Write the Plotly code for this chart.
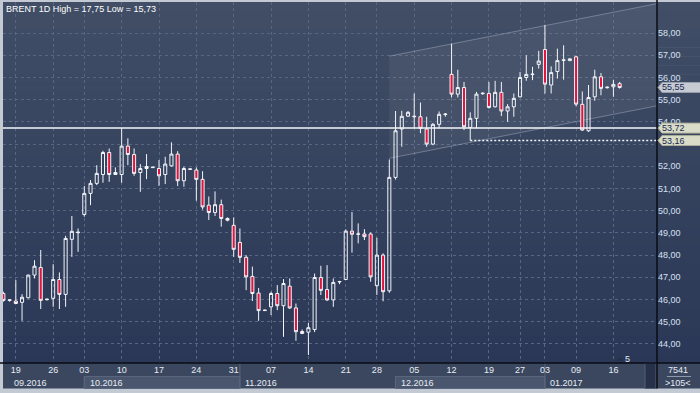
import plotly.graph_objects as go

TITLE = "BRENT 1D High = 17,75 Low = 15,73"

dates = [
    "2016-09-16", "2016-09-18", "2016-09-19", "2016-09-20", "2016-09-21", "2016-09-22", "2016-09-23",
    "2016-09-25", "2016-09-26", "2016-09-27", "2016-09-28", "2016-09-29", "2016-09-30",
    "2016-10-03", "2016-10-04", "2016-10-05", "2016-10-06", "2016-10-07", "2016-10-09",
    "2016-10-10", "2016-10-11", "2016-10-12", "2016-10-13", "2016-10-14", "2016-10-16",
    "2016-10-17", "2016-10-18", "2016-10-19", "2016-10-20", "2016-10-21", "2016-10-23",
    "2016-10-24", "2016-10-25", "2016-10-26", "2016-10-27", "2016-10-28", "2016-10-30",
    "2016-10-31", "2016-11-01", "2016-11-02", "2016-11-03", "2016-11-04", "2016-11-06",
    "2016-11-07", "2016-11-08", "2016-11-09", "2016-11-10", "2016-11-11", "2016-11-13",
    "2016-11-14", "2016-11-15", "2016-11-16", "2016-11-17", "2016-11-18", "2016-11-20",
    "2016-11-21", "2016-11-22", "2016-11-23", "2016-11-24", "2016-11-25",
    "2016-11-28", "2016-11-29", "2016-11-30", "2016-12-01", "2016-12-02", "2016-12-04",
    "2016-12-05", "2016-12-06", "2016-12-07", "2016-12-08", "2016-12-09", "2016-12-11",
    "2016-12-12", "2016-12-13", "2016-12-14", "2016-12-15", "2016-12-16", "2016-12-18",
    "2016-12-19", "2016-12-20", "2016-12-21", "2016-12-22", "2016-12-23",
    "2016-12-27", "2016-12-28", "2016-12-29", "2016-12-30",
    "2017-01-03", "2017-01-04", "2017-01-05", "2017-01-06", "2017-01-08",
    "2017-01-09", "2017-01-10", "2017-01-11", "2017-01-12", "2017-01-13", "2017-01-15",
    "2017-01-16", "2017-01-17",
]

opens = [
    46.27, 45.96, 45.93, 45.87, 46.08, 47.10, 47.44, 45.99, 46.05, 46.90,
    46.23, 48.71, 49.01, 49.83, 50.78, 51.23, 51.63, 52.62, 51.63, 51.63,
    52.91, 52.53, 51.72, 51.90, 51.94, 51.90, 51.63, 52.02, 52.55, 51.35,
    51.86, 51.83, 51.41, 50.25, 49.92, 50.27, 49.65, 49.34, 48.57, 47.90,
    47.04, 46.29, 45.50, 45.67, 46.27, 45.72, 46.60, 45.62, 44.56, 44.53,
    44.65, 46.99, 46.45, 45.98, 46.79, 46.90, 49.08, 48.94, 48.95, 48.95,
    46.62, 48.00, 46.39, 51.50, 53.68, 54.26, 54.23, 54.23, 53.68, 53.00,
    53.89, 54.33, 56.14, 55.25, 55.55, 53.75, 54.16, 55.27, 55.28, 54.68,
    55.33, 54.49, 54.68, 55.13, 56.00, 56.13, 56.59, 57.26, 55.66, 56.27,
    56.77, 56.76, 56.93, 54.79, 53.60, 55.13, 56.03, 55.54, 55.58, 55.72,
]
highs = [
    46.35, 45.99, 46.87, 46.24, 47.12, 47.77, 48.23, 46.05, 47.59, 47.22,
    48.87, 49.76, 49.20, 51.11, 51.38, 52.05, 52.70, 52.80, 51.95, 53.72,
    53.26, 52.80, 52.10, 52.55, 51.97, 52.28, 52.43, 53.08, 52.68, 51.98,
    51.89, 51.95, 51.78, 50.64, 50.87, 50.50, 49.70, 49.70, 49.20, 48.00,
    47.48, 46.52, 45.54, 46.35, 46.65, 46.92, 46.95, 45.82, 44.65, 44.94,
    47.17, 47.52, 47.55, 46.95, 46.84, 49.16, 49.94, 49.43, 49.17, 49.02,
    48.78, 48.08, 52.31, 54.49, 54.50, 54.49, 55.28, 54.87, 54.23, 53.95,
    54.47, 54.40, 57.53, 56.35, 55.80, 54.43, 55.35, 55.33, 55.80, 55.85,
    55.80, 54.80, 55.28, 56.25, 57.00, 56.48, 57.20, 58.37, 56.50, 57.30,
    57.45, 56.86, 56.98, 55.37, 55.66, 56.35, 56.20, 55.60, 55.90, 55.80,
]
lows = [
    45.90, 45.90, 45.80, 45.04, 46.05, 46.95, 45.57, 45.96, 45.67, 45.57,
    45.67, 47.92, 48.15, 49.73, 50.25, 51.15, 51.26, 51.30, 51.63, 51.26,
    52.05, 51.57, 50.85, 51.42, 51.93, 51.12, 51.20, 51.98, 51.11, 51.08,
    51.85, 50.45, 50.05, 49.58, 49.76, 49.28, 49.52, 47.92, 47.65, 46.42,
    45.93, 45.04, 45.48, 45.30, 45.52, 44.32, 45.57, 44.14, 44.44, 43.50,
    44.53, 46.20, 45.93, 45.67, 46.69, 46.88, 48.11, 48.53, 48.68, 46.80,
    46.20, 45.92, 46.30, 51.40, 52.88, 54.23, 53.71, 53.49, 52.88, 52.95,
    53.71, 54.23, 55.10, 55.10, 53.63, 53.16, 53.71, 55.22, 54.60, 54.65,
    54.26, 54.00, 54.23, 55.10, 55.85, 55.88, 56.40, 55.28, 55.28, 55.95,
    55.90, 56.74, 54.70, 53.60, 53.55, 54.95, 55.20, 55.50, 55.13, 55.50,
]
closes = [
    45.96, 45.98, 45.82, 46.10, 47.10, 47.50, 45.96, 46.01, 46.90, 46.23,
    48.75, 49.07, 49.03, 50.78, 51.23, 51.68, 52.62, 51.63, 51.72, 52.91,
    52.53, 51.68, 51.90, 51.99, 51.96, 51.57, 52.10, 52.55, 51.35, 51.90,
    51.88, 51.41, 50.17, 49.92, 50.27, 49.65, 49.57, 48.26, 47.90, 47.02,
    46.27, 45.50, 45.52, 46.27, 45.72, 46.72, 45.62, 44.55, 44.47, 44.73,
    46.99, 46.41, 45.98, 46.77, 46.81, 49.08, 48.94, 48.95, 48.83, 47.02,
    48.00, 46.35, 51.50, 53.60, 54.25, 54.43, 54.25, 53.71, 53.00, 53.89,
    54.34, 54.35, 55.25, 55.55, 53.78, 54.16, 55.25, 55.29, 54.65, 55.33,
    54.49, 54.68, 55.06, 56.00, 56.14, 56.15, 56.74, 55.70, 56.22, 56.76,
    56.79, 56.84, 54.80, 53.63, 55.10, 56.03, 55.51, 55.56, 55.69, 55.55,
]

tick_dates = [
    "2016-09-19", "2016-09-26", "2016-10-03", "2016-10-10", "2016-10-17", "2016-10-24",
    "2016-10-31", "2016-11-07", "2016-11-14", "2016-11-21", "2016-11-28", "2016-12-05",
    "2016-12-12", "2016-12-19", "2016-12-27", "2017-01-03", "2017-01-09", "2017-01-16",
]
price_ticks = [44, 45, 46, 47, 48, 49, 50, 51, 52, 53, 54, 55, 56, 57, 58]
hidden_price_labels = [53]    # covered by the level boxes in the original

level_main = 53.72            # solid horizontal level
level_low = 53.16             # dotted level
level_low_start = "2016-12-15"
last_price = 55.55

channel_start = "2016-11-30"
channel_upper0 = 56.96
channel_lower0 = 52.36
channel_slope = 0.0550        # price per bar

marker_date = "2017-01-17"
marker_text = "5"
corner_top = "7541"
corner_bottom = ">105<"

# ---------------------------------------------------------------- layout geometry
W, H = 700, 393
LM, RM, TM, BM = 3, 43, 2, 30
PW, PH = W - LM - RM, H - TM - BM
FONT = "Liberation Sans, Arial, sans-serif"


def px_x(px):
    return (px - LM) / PW


def px_y(py):
    return (H - BM - py) / PH


xi = list(range(len(dates)))
pos = {d: i for i, d in enumerate(dates)}
x_range = [-0.06, 105.0]
y_range = [43.14, 59.40]

fig = go.Figure()
fig.add_trace(go.Candlestick(
    x=xi, open=opens, high=highs, low=lows, close=closes,
    increasing=dict(line=dict(color="#f2f5fa", width=1), fillcolor="rgba(0,0,0,0)"),
    decreasing=dict(line=dict(color="#f2f5fa", width=1), fillcolor="#e0143c"),
    whiskerwidth=0, hoverinfo="skip", showlegend=False,
))

shapes = []
# gradient background (plot + right axis panel)
N = 40
top_c, bot_c = (65, 78, 102), (42, 55, 86)
for k in range(N):
    t = (k + 0.5) / N
    c = tuple(round(top_c[j] + (bot_c[j] - top_c[j]) * t) for j in range(3))
    y0 = TM + (PH) * k / N
    y1 = TM + (PH) * (k + 1) / N + 0.6
    shapes.append(dict(type="rect", xref="paper", yref="paper", layer="below",
                       x0=px_x(LM), x1=px_x(W), y0=px_y(y1), y1=px_y(y0),
                       fillcolor="rgb(%d,%d,%d)" % c, line=dict(width=0)))
# bottom axis panel
shapes.append(dict(type="rect", xref="paper", yref="paper", layer="below",
                   x0=px_x(LM), x1=px_x(W), y0=px_y(388.5), y1=px_y(363),
                   fillcolor="#3b475e", line=dict(width=0)))

# month bands / separators in the time panel
month_starts = []
for i, d in enumerate(dates):
    if i == 0 or d[:7] != dates[i - 1][:7]:
        month_starts.append(i)
for n, ms in enumerate(month_starts):
    if n == 0:
        continue
    end = month_starts[n + 1] if n + 1 < len(month_starts) else None
    if n % 2 == 1 and end is not None:
        shapes.append(dict(type="rect", xref="x", yref="paper", layer="below",
                           x0=ms, x1=end, y0=px_y(388.5), y1=px_y(376.5),
                           fillcolor="#4a566d", line=dict(color="#59657b", width=1)))
    full = n % 2 == 0
    shapes.append(dict(type="line", xref="x", yref="paper", layer="below",
                       x0=ms, x1=ms, y0=px_y(388.5), y1=px_y(363 if full else 376.5),
                       line=dict(color="#5a667c", width=1)))
# scroll strip
shapes.append(dict(type="rect", xref="paper", yref="paper", layer="below",
                   x0=px_x(645), x1=px_x(656), y0=px_y(388.5), y1=px_y(363),
                   fillcolor="#27324a", line=dict(color="#525e74", width=1)))

# channel
c0 = pos[channel_start]
c1 = x_range[1] + 1
u1 = channel_upper0 + channel_slope * (c1 - c0)
l1 = channel_lower0 + channel_slope * (c1 - c0)
shapes.append(dict(type="path", xref="x", yref="y", layer="between",
                   path=f"M {c0},{channel_upper0} L {c1},{u1} L {c1},{l1} L {c0},{channel_lower0} Z",
                   fillcolor="rgba(255,255,255,0.055)", line=dict(width=0)))
for yv0, yv1 in ((channel_upper0, u1), (channel_lower0, l1)):
    shapes.append(dict(type="line", xref="x", yref="y", layer="between",
                       x0=c0, x1=c1, y0=yv0, y1=yv1,
                       line=dict(color="rgba(205,215,232,0.35)", width=1)))

# levels
shapes.append(dict(type="line", xref="paper", yref="y", layer="above",
                   x0=0, x1=1, y0=level_main, y1=level_main,
                   line=dict(color="#f4f6fa", width=1.5)))
shapes.append(dict(type="line", xref="x", yref="y", layer="above",
                   x0=pos[level_low_start], x1=x_range[1], y0=level_low, y1=level_low,
                   line=dict(color="#f4f6fa", width=1.5, dash="2px,2px")))

# frame lines
shapes.append(dict(type="line", xref="paper", yref="paper", layer="above",
                   x0=px_x(0), x1=px_x(W), y0=px_y(363), y1=px_y(363),
                   line=dict(color="#090d15", width=1.5)))
shapes.append(dict(type="line", xref="paper", yref="paper", layer="above",
                   x0=px_x(657), x1=px_x(657), y0=px_y(0), y1=px_y(388.5),
                   line=dict(color="#090d15", width=1.5)))
shapes.append(dict(type="line", xref="paper", yref="paper", layer="above",
                   x0=px_x(667), x1=px_x(691), y0=px_y(376.5), y1=px_y(376.5),
                   line=dict(color="#8d98ab", width=1)))

# price label boxes
for val, fill, edge in ((last_price, "#c6cad2", "#9ba1ac"),
                        (level_main, "#d9dcc6", "#a9ac98"),
                        (level_low, "#d9dcc6", "#a9ac98")):
    shapes.append(dict(type="path", xref="paper", yref="y", layer="above",
                       xsizemode="pixel", ysizemode="pixel", xanchor=1.0, yanchor=val,
                       path="M 1,0 L 5,5 L 44,5 L 44,-5 L 5,-5 Z",
                       fillcolor=fill, line=dict(color=edge, width=1)))

# event marker triangle
shapes.append(dict(type="path", xref="x", yref="paper", layer="above",
                   xsizemode="pixel", ysizemode="pixel", xanchor=pos[marker_date], yanchor=px_y(361),
                   path="M -4,0 L 4,0 L 0,4 Z", fillcolor="#26314a", line=dict(width=0)))

annotations = [
    dict(text=TITLE, xref="paper", yref="paper", x=px_x(4), y=px_y(8.5),
         xanchor="left", yanchor="middle", showarrow=False,
         font=dict(family=FONT, size=9, color="#ffffff")),
]
for n, ms in enumerate(month_starts):
    label = dates[ms][5:7] + "." + dates[ms][:4]
    if n == 0:
        annotations.append(dict(text=label, xref="paper", yref="paper", x=px_x(12), y=px_y(382.5),
                                xanchor="left", yanchor="middle", showarrow=False,
                                font=dict(family=FONT, size=9, color="#e6ecf5")))
    else:
        annotations.append(dict(text=label, xref="x", yref="paper", x=ms, xshift=3.5, y=px_y(382.5),
                                xanchor="left", yanchor="middle", showarrow=False,
                                font=dict(family=FONT, size=9, color="#e6ecf5")))
for val in (last_price, level_main, level_low):
    annotations.append(dict(text=f"{val:.2f}".replace(".", ","), xref="paper", yref="y",
                            x=px_x(660), y=val, xanchor="left", yanchor="middle", showarrow=False,
                            font=dict(family=FONT, size=9, color="#1a2852")))
annotations += [
    dict(text=corner_top, xref="paper", yref="paper", x=px_x(678.5), y=px_y(370),
         xanchor="center", yanchor="middle", showarrow=False,
         font=dict(family=FONT, size=9, color="#e6ecf5")),
    dict(text=corner_bottom, xref="paper", yref="paper", x=px_x(678), y=px_y(383),
         xanchor="center", yanchor="middle", showarrow=False,
         font=dict(family=FONT, size=9, color="#e6ecf5")),
    dict(text=marker_text, xref="x", yref="paper", x=pos[marker_date], xshift=7.5, y=px_y(358.5),
         xanchor="center", yanchor="middle", showarrow=False,
         font=dict(family=FONT, size=9, color="#e6ecf5")),
]

grid = dict(showgrid=True, gridcolor="#58667f", gridwidth=1, griddash="3px,3px",
            zeroline=False, showline=False, ticks="", fixedrange=True)

fig.update_layout(
    width=W, height=H, margin=dict(l=LM, r=RM, t=TM, b=BM, pad=0),
    paper_bgcolor="#c3cad4", plot_bgcolor="#34415b",
    showlegend=False, hovermode=False,
    font=dict(family=FONT, size=9, color="#e6ecf5"),
    xaxis=dict(range=x_range, tickmode="array",
               tickvals=[pos[d] for d in tick_dates], ticktext=[d[8:10] for d in tick_dates],
               tickfont=dict(family=FONT, size=9, color="#e6ecf5"),
               rangeslider=dict(visible=False), **grid),
    yaxis=dict(range=y_range, side="right", tickmode="array",
               tickvals=price_ticks,
               ticktext=["" if v in hidden_price_labels else f"{v},00" for v in price_ticks],
               tickfont=dict(family=FONT, size=9, color="#d6e0f2"), **grid),
    shapes=shapes, annotations=annotations,
)

fig.write_html("out.html", config={"staticPlot": True},
               post_script="document.body.style.margin='0';document.body.style.overflow='hidden';")
